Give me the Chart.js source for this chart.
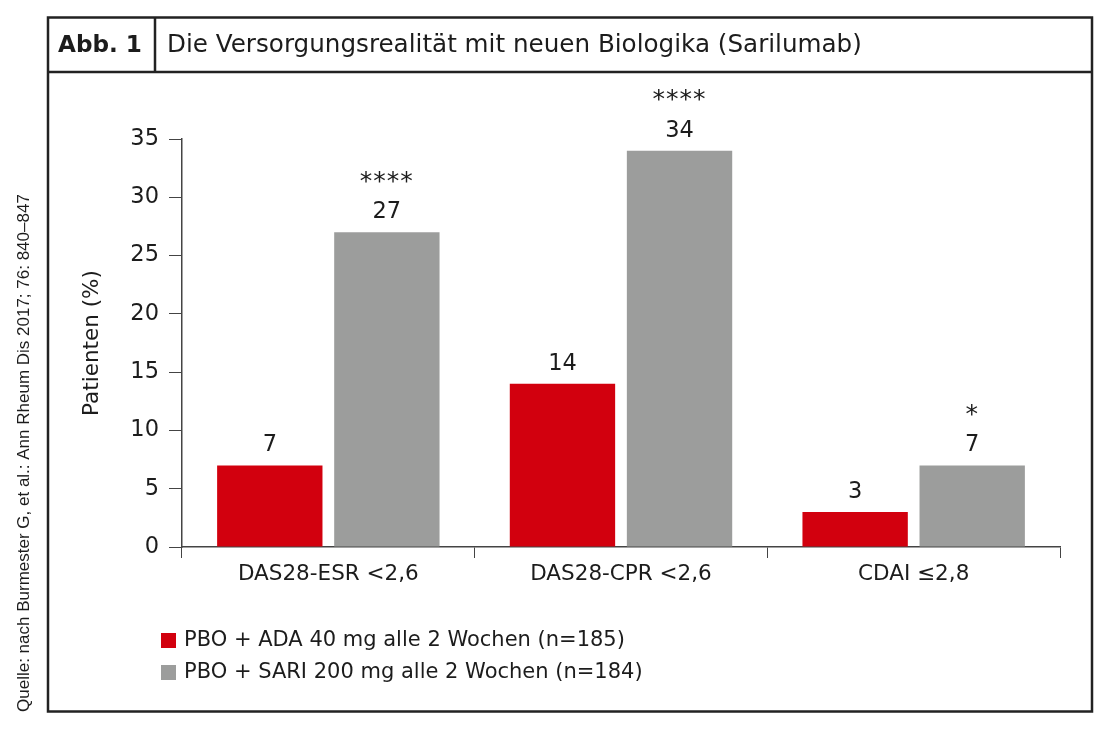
<!DOCTYPE html>
<html><head><meta charset="utf-8">
<script src="https://cdn.jsdelivr.net/npm/chart.js@4"></script>
<style>html,body{margin:0;padding:0;background:#fff}#w{position:relative;width:1100px;height:736px}canvas{display:block}</style>
</head><body><div id="w"><canvas id="c" width="1100" height="736"></canvas></div>
<script>
const categories = ["DAS28-ESR <2,6", "DAS28-CPR <2,6", "CDAI \u22642,8"];
const adaValues = [7, 14, 3];
const sariValues = [27, 34, 7];
const adaStars = ["", "", ""];
const sariStars = ["****", "****", "*"];
const seriesLabels = ["PBO + ADA 40 mg alle 2 Wochen (n=185)", "PBO + SARI 200 mg alle 2 Wochen (n=184)"];
const yTicks = [0, 5, 10, 15, 20, 25, 30, 35];
const headerLabel = "Abb. 1";
const headerTitle = "Die Versorgungsrealit\u00e4t mit neuen Biologika (Sarilumab)";
const yTitle = "Patienten (%)";
const sourceText = "Quelle: nach Burmester G, et al.: Ann Rheum Dis 2017; 76: 840\u2013847";

const RED = "#d2000e", GREY = "#9c9d9c", TXT = "#1c1c1c";
const FONT = "'DejaVu Sans', sans-serif";
const SRC_FONT = "'Liberation Sans', Arial, sans-serif";

function fitFont(ctx, text, weight, family, target) {
  let size = 30;
  ctx.font = weight + " " + size + "px " + family;
  const w = ctx.measureText(text).width;
  size = size * target / w;
  return weight + " " + size.toFixed(2) + "px " + family;
}

const framePlugin = {
  id: "frame",
  beforeDraw(chart) {
    const ctx = chart.ctx;
    ctx.save();
    ctx.fillStyle = "#fff";
    ctx.fillRect(0, 0, chart.width, chart.height);
    ctx.strokeStyle = "#222";
    ctx.lineWidth = 2.5;
    ctx.strokeRect(48, 17.5, 1044, 694);
    ctx.beginPath();
    ctx.moveTo(48, 72); ctx.lineTo(1092, 72);
    ctx.moveTo(155, 17.5); ctx.lineTo(155, 72);
    ctx.stroke();
    ctx.fillStyle = TXT;
    ctx.textBaseline = "middle";
    ctx.textAlign = "left";
    ctx.font = fitFont(ctx, headerLabel, "bold", FONT, 84);
    ctx.fillText(headerLabel, 58, 46);
    ctx.font = fitFont(ctx, headerTitle, "normal", FONT, 695);
    ctx.fillText(headerTitle, 167, 46);
    // source text rotated
    ctx.save();
    ctx.translate(24, 712);
    ctx.rotate(-Math.PI / 2);
    ctx.font = "17px " + SRC_FONT;
    ctx.textAlign = "left";
    ctx.fillText(sourceText, 0, 0);
    ctx.restore();
    ctx.restore();
  },
  afterDatasetsDraw(chart) {
    const ctx = chart.ctx;
    ctx.save();
    ctx.fillStyle = TXT;
    ctx.textAlign = "center";
    ctx.textBaseline = "middle";
    const stars = [adaStars, sariStars];
    chart.data.datasets.forEach((ds, di) => {
      const meta = chart.getDatasetMeta(di);
      meta.data.forEach((bar, i) => {
        ctx.font = "22.5px " + FONT;
        ctx.letterSpacing = "0px";
        ctx.fillText(String(ds.data[i]), bar.x, bar.y - 20);
        if (stars[di][i]) {
          ctx.font = "25px " + FONT;
          ctx.letterSpacing = "1px";
          ctx.fillText(stars[di][i], bar.x, bar.y - 50);
        }
      });
    });
    ctx.letterSpacing = "0px";
    // legend
    ctx.textAlign = "left";
    ctx.font = "21px " + FONT;
    chart.data.datasets.forEach((ds, di) => {
      const y = 640 + di * 32;
      ctx.fillStyle = ds.backgroundColor;
      ctx.fillRect(161, y - 7, 15, 15);
      ctx.fillStyle = TXT;
      ctx.fillText(ds.label, 184, y + 1);
    });
    ctx.restore();
  }
};

new Chart(document.getElementById("c"), {
  type: "bar",
  data: {
    labels: categories,
    datasets: [
      { label: seriesLabels[0], data: adaValues, backgroundColor: RED },
      { label: seriesLabels[1], data: sariValues, backgroundColor: GREY }
    ]
  },
  options: {
    responsive: false,
    animation: false,
    devicePixelRatio: 1,
    layout: { padding: { left: 80, right: 40, top: 139, bottom: 149 } },
    plugins: { legend: { display: false }, tooltip: { enabled: false } },
    categoryPercentage: 0.8,
    barPercentage: 0.9,
    scales: {
      x: {
        afterFit(s) { s.height = 40; },
        grid: { display: true, drawOnChartArea: false, drawTicks: true, tickLength: 11, color: "#444", offset: true },
        border: { display: true, color: "#444", width: 1.5 },
        ticks: { color: TXT, font: { family: FONT, size: 21.5 }, padding: 4 }
      },
      y: {
        min: 0, max: 35,
        afterFit(s) { s.width = 102; },
        afterBuildTicks(s) { s.ticks = yTicks.map(v => ({ value: v })); },
        grid: { display: true, drawOnChartArea: false, drawTicks: true, tickLength: 13, color: "#444" },
        border: { display: true, color: "#444", width: 1.5 },
        ticks: { color: TXT, font: { family: FONT, size: 22.5 }, padding: 10 },
        title: { display: true, text: yTitle, color: TXT, font: { family: FONT, size: 21.5 }, padding: { top: 0, bottom: 0 } }
      }
    }
  },
  plugins: [framePlugin]
});
</script></body></html>
